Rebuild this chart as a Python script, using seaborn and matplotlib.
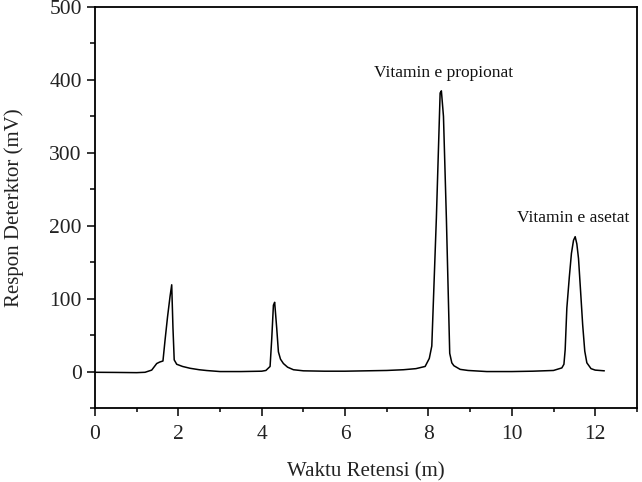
import pandas as pd
import matplotlib
matplotlib.use("Agg")
import matplotlib.pyplot as plt
from matplotlib.ticker import MultipleLocator
import seaborn as sns

# chromatogram (time in minutes, response in mV)
waktu = [0.0, 0.5, 1.0, 1.2, 1.36, 1.48, 1.55, 1.63, 1.68, 1.74, 1.80, 1.84,
         1.87, 1.90, 1.96, 2.1, 2.28, 2.5, 2.68, 3.0, 3.5, 4.0, 4.1, 4.2,
         4.24, 4.28, 4.31, 4.36, 4.40, 4.45, 4.52, 4.62, 4.76, 5.0, 5.5, 6.0,
         6.5, 7.0, 7.4, 7.7, 7.92, 8.02, 8.08, 8.19, 8.28, 8.31, 8.36, 8.43,
         8.51, 8.56, 8.61, 8.76, 8.95, 9.4, 10.0, 10.5, 11.0, 11.2, 11.25,
         11.28, 11.32, 11.38, 11.43, 11.48, 11.52, 11.56, 11.60, 11.65, 11.70,
         11.75, 11.80, 11.9, 12.0, 12.22]
respon = [-1, -1.2, -1.5, -1, 2, 11, 13, 14.5, 43, 75, 103, 119,
          60, 16, 10, 7, 4.5, 2.5, 1.4, 0, 0, 0.5, 1.5, 7,
          45, 91, 95, 59, 27, 17, 11, 6, 2.5, 1, 0.5, 0.5,
          1, 1.5, 2.5, 4, 7, 18, 35, 211, 382, 385, 350, 210,
          25, 12, 8, 3, 1.5, 0, 0, 0.5, 1.5, 5, 10,
          30, 87, 130, 162, 180, 185, 175, 155, 110, 64,
          28, 12, 4, 2, 1]

label_teks = ["Vitamin e propionat", "Vitamin e asetat"]
label_x = [8.36, 11.48]
label_y = [410, 211]

df = pd.DataFrame({"waktu": waktu, "respon": respon})

sns.set_theme(style="ticks")
plt.rcParams["font.family"] = ["Liberation Serif", "DejaVu Serif"]
plt.rcParams["xtick.major.size"] = 5.5
plt.rcParams["ytick.major.size"] = 6
plt.rcParams["xtick.minor.size"] = 3
plt.rcParams["ytick.minor.size"] = 3.5

fig = plt.figure(figsize=(6.42, 4.82), dpi=100)
ax = fig.add_axes([0.148, 0.1535, 0.844, 0.832])

sns.lineplot(data=df, x="waktu", y="respon", color="black", linewidth=1.1,
             sort=False, estimator=None, ax=ax)

for t, x, y in zip(label_teks, label_x, label_y):
    ax.text(x, y, t, ha="center", va="center", fontsize=12.5, color="#111111")

ax.set_xlim(0, 13)
ax.set_ylim(-50, 500)
ax.xaxis.set_major_locator(MultipleLocator(2))
ax.xaxis.set_minor_locator(MultipleLocator(1))
ax.yaxis.set_major_locator(MultipleLocator(100))
ax.yaxis.set_minor_locator(MultipleLocator(50))
ax.tick_params(which="both", direction="out", width=1.1, colors="black",
               labelsize=15.5, labelcolor="#222222")
ax.tick_params(axis="x", which="major", pad=7)
for s in ax.spines.values():
    s.set_linewidth(1.3)
    s.set_color("black")

ax.set_xlabel("Waktu Retensi (m)", fontsize=15, color="#222222", labelpad=13)
ax.set_ylabel("Respon Deterktor (mV)", fontsize=15, color="#222222", labelpad=18)

fig.savefig("out.png", dpi=100)
